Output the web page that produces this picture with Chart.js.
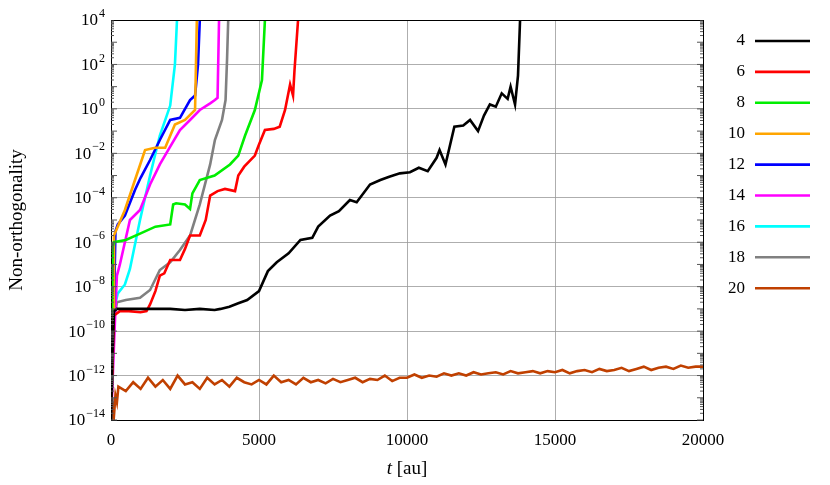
<!DOCTYPE html>
<html><head><meta charset="utf-8">
<script src="https://cdn.jsdelivr.net/npm/chart.js@4"></script>
<style>body{margin:0;background:#fff}#w{width:830px;height:485px}</style>
</head><body><div id="w"><canvas id="c"></canvas></div>
<script>
const labels = ['4','6','8','10','12','14','16','18','20'];
const colors = ['#000000','#ff0000','#00ee00','#ffa500','#0000ff','#ff00ff','#00ffff','#808080','#c04000'];
const t4 = [0,50,100,200,500,1000,1500,2000,2500,3000,3500,3700,4000,4300,4600,5000,5300,5600,6000,6400,6800,7000,7400,7700,8070,8300,8750,9100,9400,9760,10100,10400,10700,11000,11100,11300,11600,11900,12130,12400,12600,12800,13000,13200,13400,13500,13650,13750,13820];
const e4 = [-14,-11,-9.1,-9,-9,-9,-9,-9,-9.05,-9,-9.05,-9,-8.9,-8.75,-8.6,-8.2,-7.3,-6.9,-6.5,-5.9,-5.8,-5.3,-4.8,-4.6,-4.1,-4.2,-3.4,-3.2,-3.05,-2.9,-2.85,-2.65,-2.8,-2.2,-1.85,-2.5,-0.8,-0.75,-0.5,-1.0,-0.3,0.2,0.1,0.7,0.45,1.0,0.2,1.5,4];
const t6 = [0,100,300,600,1000,1200,1320,1500,1650,1800,2000,2330,2500,2670,3000,3200,3350,3600,3850,4190,4300,4500,4860,5000,5200,5500,5700,5880,6050,6150,6200,6320];
const e6 = [-14,-9.3,-9.1,-9.1,-9.15,-9.1,-8.8,-8.2,-7.5,-7.4,-6.8,-6.8,-6.3,-5.7,-5.7,-5.0,-3.9,-3.7,-3.6,-3.7,-3.0,-2.6,-2.1,-1.6,-0.95,-0.9,-0.8,-0.05,1.1,0.6,1.75,4];
const t8 = [0,60,100,500,1000,1500,2000,2100,2200,2500,2670,2750,3000,3500,4020,4300,4530,4860,5100,5200];
const e8 = [-14,-6.2,-6.0,-5.9,-5.6,-5.3,-5.2,-4.3,-4.25,-4.3,-4.5,-3.8,-3.2,-3.0,-2.5,-2.1,-1.2,-0.05,1.3,4];
const t10 = [0,80,100,470,810,1150,1490,1830,2160,2500,2840,2900];
const e10 = [-14,-9,-5.7,-4.55,-3.2,-1.85,-1.75,-1.75,-0.7,-0.5,-0.05,4];
const t12 = [0,100,150,230,470,810,1000,1320,1650,2000,2330,2670,2840,2940,3000];
const e12 = [-14,-9,-5.5,-5.2,-4.8,-3.65,-3.1,-2.3,-1.4,-0.5,-0.4,0.4,0.6,2,4];
const t14 = [0,150,200,300,640,980,1320,1650,2000,2330,2670,3000,3350,3510,3600,3650];
const e14 = [-14,-9,-7.5,-7,-5,-4.55,-3.4,-2.5,-1.7,-0.95,-0.5,-0.05,0.25,0.4,0.5,4];
const t16 = [0,100,230,470,640,980,1320,1650,2000,2160,2230];
const e16 = [-14,-9,-8.3,-7.9,-7.2,-5,-3,-1.2,0.15,2,4];
const t18 = [0,100,200,500,980,1320,1650,2000,2330,2670,3000,3350,3510,3750,3870,3920,3960];
const e18 = [-14,-9.5,-8.7,-8.6,-8.5,-8.15,-7.25,-6.9,-6.35,-5.7,-4.3,-2.5,-1.4,-0.5,0.4,2.2,4];
const t20 = [0,50,100,150,200,250,500,750,1000,1250,1500,1750,2000,2250,2500,2750,3000,3250,3500,3750,4000,4250,4500,4750,5000,5250,5500,5750,6000,6250,6500,6750,7000,7250,7500,7750,8000,8250,8500,8750,9000,9250,9500,9750,10000,10250,10500,10750,11000,11250,11500,11750,12000,12250,12500,12750,13000,13250,13500,13750,14000,14250,14500,14750,15000,15250,15500,15750,16000,16250,16500,16750,17000,17250,17500,17750,18000,18250,18500,18750,19000,19250,19500,19750,20000];
const e20 = [-14,-13.3,-13.8,-12.9,-13.2,-12.5,-12.7,-12.3,-12.6,-12.1,-12.5,-12.2,-12.6,-12.0,-12.4,-12.3,-12.6,-12.1,-12.4,-12.2,-12.5,-12.1,-12.3,-12.4,-12.2,-12.4,-12.0,-12.3,-12.2,-12.4,-12.1,-12.3,-12.2,-12.35,-12.15,-12.3,-12.2,-12.1,-12.3,-12.15,-12.2,-12.0,-12.25,-12.1,-12.1,-11.95,-12.1,-12.0,-12.05,-11.9,-12.0,-11.9,-12.0,-11.85,-11.95,-11.9,-11.85,-11.95,-11.8,-11.9,-11.85,-11.8,-11.9,-11.8,-11.85,-11.75,-11.9,-11.8,-11.75,-11.85,-11.7,-11.8,-11.75,-11.65,-11.8,-11.7,-11.6,-11.75,-11.65,-11.6,-11.7,-11.55,-11.65,-11.6,-11.6];
const xTicks = [0,5000,10000,15000,20000];
const yExps = [-14,-12,-10,-8,-6,-4,-2,0,2,4];

const ts=[t4,t6,t8,t10,t12,t14,t16,t18,t20], es=[e4,e6,e8,e10,e12,e14,e16,e18,e20];
const FONT = '"Liberation Serif", serif';
const datasets = labels.map((l,i)=>({label:l, data: ts[i].map((t,j)=>({x:t,y:Math.pow(10,es[i][j])})),
  borderColor:colors[i], borderWidth:2.6, pointRadius:0, tension:0, fill:false}));

const deco = {
  id:'deco',
  afterDraw(ch){
    const c=ch.ctx, a=ch.chartArea, y=ch.scales.y;
    c.save();
    c.strokeStyle='#000'; c.lineWidth=1;
    c.strokeRect(a.left+0.5,a.top+0.5,a.right-a.left,a.bottom-a.top);
    c.strokeStyle='#555';
    for(let e=-14;e<4;e++) for(let m=1;m<10;m++){
      const py=y.getPixelForValue(m*Math.pow(10,e)); const len = m===1?6:3;
      c.beginPath(); c.moveTo(a.left,py); c.lineTo(a.left+len,py); c.stroke();
      c.beginPath(); c.moveTo(a.right,py); c.lineTo(a.right-len,py); c.stroke();
    }
    c.fillStyle='#000'; c.textBaseline='middle';
    yExps.forEach(e=>{
      const py=y.getPixelForValue(Math.pow(10,e));
      c.textAlign='right';
      c.font='12px '+FONT; const ex=String(e).replace('-','−'); const sw=c.measureText(ex).width;
      c.fillText(ex, a.left-6, py-6);
      c.font='17px '+FONT; c.fillText('10', a.left-7-sw, py+1);
    });
    c.font='italic 19px '+FONT; c.textAlign='left'; c.textBaseline='alphabetic';
    const w1=c.measureText('t').width; c.font='19px '+FONT;
    const w2=c.measureText(' [au]').width; const cx=(a.left+a.right)/2-(w1+w2)/2;
    c.font='italic 19px '+FONT; c.fillText('t',cx,474);
    c.font='19px '+FONT; c.fillText(' [au]',cx+w1,474);
    c.translate(22,(a.top+a.bottom)/2); c.rotate(-Math.PI/2);
    c.textAlign='center'; c.font='19px '+FONT; c.fillText('Non-orthogonality',0,0);
    c.restore();
    c.save(); c.font='17px '+FONT; c.textAlign='right'; c.textBaseline='middle';
    labels.forEach((l,i)=>{
      const py=41+i*30.9;
      c.fillStyle='#000'; c.fillText(l,745,py);
      c.strokeStyle=colors[i]; c.lineWidth=2.6;
      c.beginPath(); c.moveTo(755,py); c.lineTo(810,py); c.stroke();
    });
    c.restore();
  }
};

new Chart(document.getElementById('c'),{
  type:'line',
  data:{datasets},
  options:{
    responsive:true, maintainAspectRatio:false, animation:false,
    layout:{padding:{left:0,right:127,top:20,bottom:0}},
    plugins:{legend:{display:false},tooltip:{enabled:false}},
    scales:{
      x:{type:'linear',min:0,max:20000,
        afterBuildTicks:s=>{s.ticks=xTicks.map(v=>({value:v}));},
        afterFit:s=>{s.height=65;},
        grid:{color:'#999',lineWidth:0.8,tickLength:0,drawTicks:false},
        border:{display:false},
        ticks:{color:'#000',font:{family:FONT,size:17},padding:10,maxRotation:0,callback:v=>String(v)}},
      y:{type:'logarithmic',min:1e-14,max:1e4,
        afterBuildTicks:s=>{s.ticks=yExps.map(e=>({value:Math.pow(10,e)}));},
        afterFit:s=>{s.width=111;},
        grid:{color:'#999',lineWidth:0.8,drawTicks:false},
        border:{display:false},
        ticks:{callback:()=>''}}
    }
  },
  plugins:[deco]
});
</script></body></html>
